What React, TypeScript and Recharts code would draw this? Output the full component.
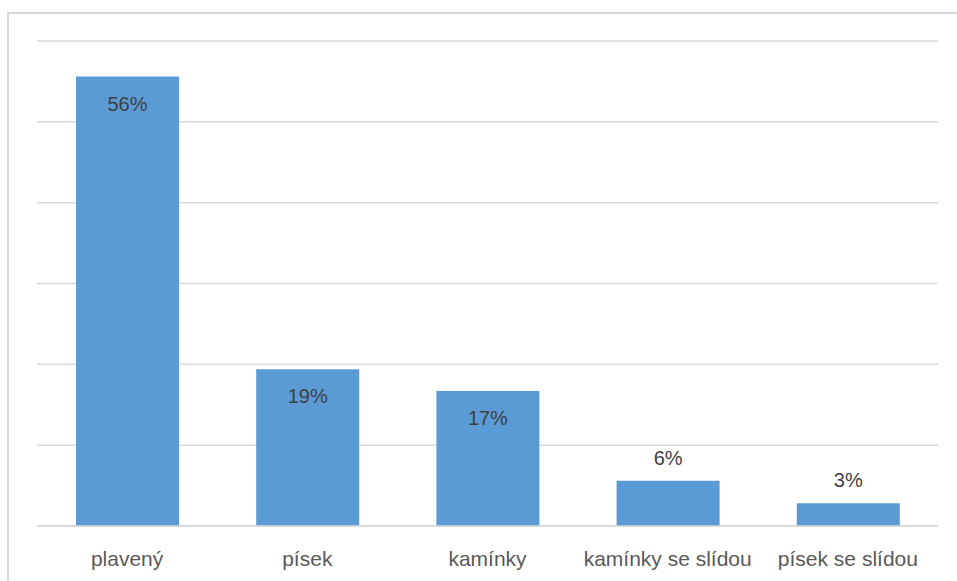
import React from "react";
import { BarChart, Bar, XAxis, YAxis, CartesianGrid, LabelList } from "recharts";

const categories = ["plavený", "písek", "kamínky", "kamínky se slídou", "písek se slídou"];
const shares = [55.6, 19.4, 16.7, 5.6, 2.8];
const labels = ["56%", "19%", "17%", "6%", "3%"];
const yTicks = [0, 10, 20, 30, 40, 50, 60];

const data = categories.map((c, i) => ({ name: c, value: shares[i], label: labels[i] }));

const FONT = "'Liberation Sans', Arial, sans-serif";

const renderLabel = (props: any) => {
  const { x, y, width, index } = props;
  const v = shares[index];
  const inside = v >= 10;
  return (
    <text
      x={x + width / 2}
      y={inside ? y + 34 : y - 16}
      textAnchor="middle"
      fill="#404040"
      fontSize={20}
      fontFamily={FONT}
    >
      {labels[index]}
    </text>
  );
};

const renderTick = (props: any) => {
  const { x, y, payload } = props;
  return (
    <text x={x} y={y} dy={40} textAnchor="middle" fill="#595959" fontSize={21} fontFamily={FONT}>
      {payload.value}
    </text>
  );
};

export default function App() {
  return (
    <div style={{ position: "absolute", left: 0, top: 0, width: 957, height: 581, background: "#fff", overflow: "hidden" }}>
      <div
        style={{
          position: "absolute",
          left: 7,
          top: 12,
          width: 1000,
          height: 700,
          border: "2px solid #d9d9d9",
          boxSizing: "border-box",
        }}
      />
      <div style={{ position: "absolute", left: 0, top: 0 }}>
        <BarChart
          width={957}
          height={581}
          data={data}
          margin={{ top: 41, right: 19, left: 37, bottom: 0 }}
          barSize={103}
        >
          <CartesianGrid vertical={false} stroke="#d9d9d9" strokeWidth={1.5} />
          <YAxis hide domain={[0, 60]} ticks={yTicks} />
          <XAxis
            dataKey="name"
            height={55}
            axisLine={{ stroke: "#d9d9d9", strokeWidth: 1.5 }}
            tickLine={false}
            tickSize={0}
            tickMargin={0}
            tick={renderTick}
            interval={0}
          />
          <Bar dataKey="value" fill="#5B9BD5" isAnimationActive={false}>
            <LabelList dataKey="value" content={renderLabel} />
          </Bar>
        </BarChart>
      </div>
    </div>
  );
}
